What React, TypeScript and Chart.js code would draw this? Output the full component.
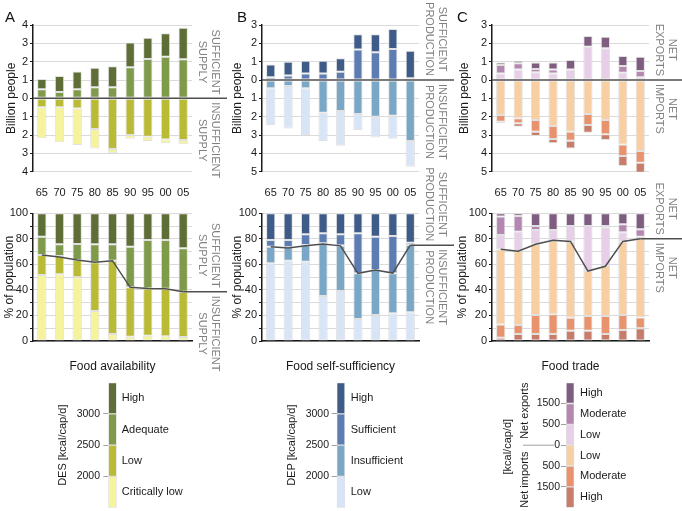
import React, { useEffect, useRef } from 'react';
import { Chart, registerables } from 'chart.js';

Chart.register(...registerables);

const FONT = "'Liberation Sans', Arial, Helvetica, sans-serif";
Chart.defaults.font.family = FONT;
Chart.defaults.color = '#1a1a1a';

// ---------------- DATA ----------------
const years = ['65', '70', '75', '80', '85', '90', '95', '00', '05'];

// A: Food availability (billion people)
const availAdequateBn = [0.49, 0.35, 0.49, 0.6, 0.6, 1.69, 2.15, 2.27, 2.13];
const availHighBn = [0.56, 0.87, 0.98, 1.07, 1.15, 1.35, 1.16, 1.28, 1.72];
const availLowBn = [0.49, 0.49, 0.55, 1.67, 2.76, 2.0, 2.09, 2.24, 2.27];
const availCritLowBn = [1.69, 1.91, 2.0, 1.06, 0.24, 0.2, 0.24, 0.21, 0.23];
// A: % of population
const availCritLowPct = [51.7, 52.2, 49.9, 23.5, 5.5, 3.4, 4.2, 3.7, 3.1];
const availLowPct = [15.7, 14.4, 13.5, 38.1, 57.4, 38.6, 37.0, 37.3, 35.5];
const availAdequatePct = [14.3, 9.1, 12.6, 14.1, 12.8, 31.9, 37.8, 38.0, 34.0];
const availHighPct = [18.3, 24.3, 24.0, 24.3, 24.3, 26.1, 21.0, 21.0, 27.4];
const availInsufficientSharePct = [67.4, 65.8, 63.4, 61.6, 62.9, 42.0, 41.2, 41.0, 38.6];

// B: Food self-sufficiency (billion people)
const suffSufficientBn = [0.15, 0.25, 0.36, 0.36, 0.45, 1.67, 1.51, 1.69, 0.09];
const suffHighBn = [0.7, 0.75, 0.69, 0.69, 0.73, 0.82, 0.98, 1.09, 1.51];
const suffInsufficientBn = [0.45, 0.33, 0.45, 1.78, 1.69, 1.85, 2.0, 1.95, 3.33];
const suffLowBn = [2.0, 2.31, 2.55, 1.55, 1.89, 0.88, 1.13, 1.25, 1.4];
// B: % of population
const suffLowPct = [60.8, 62.9, 62.1, 35.2, 39.2, 17.2, 20.4, 21.7, 22.5];
const suffInsufficientPct = [13.1, 10.5, 13.1, 41.3, 35.5, 35.8, 35.2, 31.3, 52.7];
const suffSufficientPct = [5.2, 5.7, 8.4, 7.8, 8.9, 31.3, 26.1, 29.2, 1.8];
const suffHighPct = [20.9, 20.9, 16.4, 15.7, 16.4, 15.7, 18.3, 17.8, 23.0];
const suffInsufficientSharePct = [73.9, 72.8, 74.5, 76.0, 74.5, 53.0, 55.6, 53.2, 75.0];

// C: Food trade (billion people)
const tradeLowExpBn = [0.36, 0.58, 0.42, 0.36, 0.58, 1.82, 1.73, 0.4, 0.15];
const tradeModExpBn = [0.46, 0.33, 0.18, 0.22, 0.0, 0.0, 0.0, 0.36, 0.34];
const tradeHighExpBn = [0.13, 0.14, 0.36, 0.37, 0.51, 0.58, 0.63, 0.55, 0.78];
const tradeLowImpBn = [1.91, 2.09, 2.18, 2.51, 2.82, 1.85, 2.18, 3.51, 3.87];
const tradeModImpBn = [0.36, 0.27, 0.64, 0.71, 0.49, 0.6, 0.78, 0.64, 0.64];
const tradeHighImpBn = [0.09, 0.19, 0.23, 0.23, 0.42, 0.42, 0.31, 0.54, 0.58];
// C: % of population
const tradeHighImpPct = [2.6, 5.5, 5.5, 5.5, 8.1, 8.1, 5.5, 8.6, 9.9];
const tradeModImpPct = [10.4, 7.0, 14.9, 15.4, 10.2, 11.5, 14.1, 11.8, 8.6];
const tradeLowImpPct = [58.8, 58.0, 55.3, 57.7, 59.5, 35.2, 39.1, 57.4, 61.9];
const tradeLowExpPct = [11.2, 15.1, 11.3, 8.4, 12.2, 35.2, 30.3, 7.3, 1.3];
const tradeModExpPct = [14.4, 12.3, 3.0, 0.0, 0.0, 0.0, 1.0, 6.3, 5.8];
const tradeHighExpPct = [2.6, 2.1, 10.0, 13.0, 10.0, 10.0, 10.0, 8.6, 12.5];
const tradeImportSharePct = [71.8, 70.3, 75.8, 78.8, 78.0, 54.8, 58.5, 78.0, 80.0];

// Legends
const desLegendLabels = ['Critically low', 'Low', 'Adequate', 'High'];
const depLegendLabels = ['Low', 'Insufficient', 'Sufficient', 'High'];
const kcalLegendTicks = ['2000', '2500', '3000'];
const tradeLegendLabels = ['High', 'Moderate', 'Low', 'Low', 'Moderate', 'High'];
const tradeLegendTicks = ['1500', '500', '0', '500', '1500'];

// ---------------- STYLE ----------------
const availColors = { crit: '#f5f39c', low: '#babb35', adequate: '#7f9a4b', high: '#5e6e36' };
const suffColors = { low: '#d8e5f7', insuff: '#7aa7c5', suff: '#5d7db2', high: '#3f5b88' };
const tradeColors = {
  highImp: '#c77d6a',
  modImp: '#e8936e',
  lowImp: '#f8cfa2',
  lowExp: '#e7cfe7',
  modExp: '#b487b1',
  highExp: '#7e5d80',
};
const BORDER = 'rgba(222,222,222,0.9)';
const SEP_COLOR = '#4f4f4f';
const GRID = '#dadada';
const AXIS = '#1a1a1a';

// ---------------- PLUGINS ----------------
const sideLabels = {
  id: 'sideLabels',
  afterDatasetsDraw(chart: any, _a: any, opts: any) {
    if (!opts || !opts.upper) return;
    const { ctx, chartArea } = chart;
    const y = chart.scales.y.getPixelForValue(opts.value);
    let x0 = chartArea.left;
    if (opts.lineIndex !== undefined) {
      const pts = chart.getDatasetMeta(opts.lineIndex).data;
      x0 = pts[pts.length - 1].x;
    }
    ctx.save();
    ctx.strokeStyle = SEP_COLOR;
    ctx.lineWidth = 1.5;
    ctx.beginPath();
    ctx.moveTo(x0, y);
    ctx.lineTo(chart.width, y);
    ctx.stroke();
    ctx.font = `11px ${FONT}`;
    ctx.fillStyle = '#808080';
    ctx.textAlign = 'center';
    ctx.textBaseline = 'middle';
    const cols = [chartArea.right + 23, chartArea.right + 10];
    const block = (lines: string[], start: number, dir: number) => {
      const w = Math.max(...lines.map((l) => ctx.measureText(l).width));
      const cy = start + (dir * w) / 2;
      lines.forEach((l, i) => {
        ctx.save();
        ctx.translate(cols[i], cy);
        ctx.rotate(Math.PI / 2);
        ctx.fillText(l, 0, 0);
        ctx.restore();
      });
    };
    block(opts.upper, y - 4, -1);
    block(opts.lower, y + 4, 1);
    ctx.restore();
  },
};

const panelLetter = {
  id: 'panelLetter',
  afterDraw(chart: any, _a: any, opts: any) {
    if (!opts || !opts.text) return;
    const { ctx } = chart;
    ctx.save();
    ctx.font = `15px ${FONT}`;
    ctx.fillStyle = '#111';
    ctx.textAlign = 'left';
    ctx.textBaseline = 'alphabetic';
    ctx.fillText(opts.text, opts.x, opts.y);
    ctx.restore();
  },
};

const tradeLegendTitles = {
  id: 'tradeLegendTitles',
  afterDraw(chart: any, _a: any, opts: any) {
    if (!opts || !opts.enabled) return;
    const { ctx, chartArea } = chart;
    const y0 = chart.scales.y.getPixelForValue(3);
    const L = chartArea.left;
    ctx.save();
    ctx.strokeStyle = '#a0a0a0';
    ctx.lineWidth = 1;
    ctx.beginPath();
    ctx.moveTo(L - 43, y0);
    ctx.lineTo(L - 12, y0);
    ctx.stroke();
    ctx.font = `11px ${FONT}`;
    ctx.fillStyle = '#1a1a1a';
    ctx.textAlign = 'center';
    ctx.textBaseline = 'middle';
    const rot = (t: string, x: number, y: number) => {
      ctx.save();
      ctx.translate(x, y);
      ctx.rotate(-Math.PI / 2);
      ctx.fillText(t, 0, 0);
      ctx.restore();
    };
    rot('Net exports', L - 41, y0 - 34.5);
    rot('Net imports', L - 41, y0 + 34.5);
    rot('[kcal/cap/d]', L - 58, y0 + 1.5);
    ctx.restore();
  },
};

// ---------------- CONFIG BUILDERS ----------------
type Seg = { label: string; data: number[]; color: string; down?: boolean };

const barDataset = (s: Seg) => ({
  type: 'bar',
  label: s.label,
  data: s.down ? s.data.map((v) => -v) : s.data,
  backgroundColor: s.color,
  borderColor: BORDER,
  borderWidth: 1,
  borderSkipped: false,
  barPercentage: 0.53,
  categoryPercentage: 1,
  stack: 'bars',
  order: 1,
});

type Col = {
  left: number;
  width: number;
  yWidth: number;
  padRight: number;
  letter: string;
  letterX: number;
  topTitlePad: number;
  botTitlePad: number;
};

const colA: Col = { left: 0, width: 227, yWidth: 33, padRight: 35, letter: 'A', letterX: 5, topTitlePad: 4.8, botTitlePad: 2.8 };
const colB: Col = { left: 227, width: 227, yWidth: 35, padRight: 35, letter: 'B', letterX: 10, topTitlePad: 3.8, botTitlePad: 3.8 };
const colC: Col = { left: 454, width: 228, yWidth: 38, padRight: 33, letter: 'C', letterX: 3, topTitlePad: 3.8, botTitlePad: 1.8 };

const TOP = { top: 0, height: 200, padTop: 25, xHeight: 28.3 };
const BOT = { top: 160, height: 220, padTop: 53.3, xHeight: 39 };

function topConfig(col: Col, segs: Seg[], yMin: number, yMax: number, upper: string[], lower: string[]) {
  return {
    type: 'bar',
    data: { labels: years, datasets: segs.map(barDataset) },
    options: {
      responsive: false,
      animation: false,
      events: [],
      layout: { padding: { left: 0, top: TOP.padTop, right: col.padRight, bottom: 0 } },
      plugins: {
        legend: { display: false },
        tooltip: { enabled: false },
        sideLabels: { value: 0, upper, lower },
        panelLetter: { text: col.letter, x: col.letterX, y: 22 },
      },
      scales: {
        x: {
          stacked: true,
          grid: { display: false, drawTicks: false },
          border: { display: false },
          ticks: { padding: 15, font: { size: 11 }, color: AXIS, autoSkip: false, maxRotation: 0 },
          afterFit: (s: any) => {
            s.height = TOP.xHeight;
          },
        },
        y: {
          stacked: true,
          min: yMin,
          max: yMax,
          ticks: {
            stepSize: 1,
            callback: (v: any) => Math.abs(Number(v)),
            padding: 2,
            font: { size: 11 },
            color: AXIS,
          },
          grid: {
            color: (c: any) => (c.tick && c.tick.value === 0 ? 'rgba(0,0,0,0)' : GRID),
            tickColor: AXIS,
            tickLength: 3,
          },
          border: { display: true, color: AXIS, width: 1.5 },
          title: {
            display: true,
            text: 'Billion people',
            font: { size: 12 },
            color: AXIS,
            padding: { top: col.topTitlePad, bottom: 0 },
          },
          afterFit: (s: any) => {
            s.width = col.yWidth;
          },
        },
      },
    },
    plugins: [sideLabels, panelLetter],
  };
}

function bottomConfig(col: Col, segs: Seg[], line: number[], title: string, upper: string[], lower: string[]) {
  const lineDs = {
    type: 'line',
    label: 'share',
    data: line,
    borderColor: SEP_COLOR,
    borderWidth: 1.5,
    pointRadius: 0,
    tension: 0,
    fill: false,
    stack: 'line',
    order: 0,
  };
  const datasets: any[] = segs.map(barDataset);
  datasets.push(lineDs);
  return {
    type: 'bar',
    data: { labels: years, datasets },
    options: {
      responsive: false,
      animation: false,
      events: [],
      layout: { padding: { left: 0, top: BOT.padTop, right: col.padRight, bottom: 0 } },
      plugins: {
        legend: { display: false },
        tooltip: { enabled: false },
        sideLabels: { value: line[line.length - 1], lineIndex: segs.length, upper, lower },
      },
      scales: {
        x: {
          stacked: true,
          grid: { display: false, drawTicks: false },
          border: { display: true, color: AXIS, width: 1.5 },
          ticks: { display: false },
          title: {
            display: true,
            text: title,
            font: { size: 12 },
            color: AXIS,
            padding: { top: 0, bottom: 5.8 },
          },
          afterFit: (s: any) => {
            s.height = BOT.xHeight;
          },
        },
        y: {
          stacked: true,
          min: 0,
          max: 100,
          ticks: {
            stepSize: 10,
            callback: (v: any) => (Number(v) % 20 === 0 ? String(v) : ''),
            padding: 2,
            font: { size: 11 },
            color: AXIS,
            autoSkip: false,
          },
          grid: { color: GRID, tickColor: AXIS, tickLength: 3 },
          border: { display: true, color: AXIS, width: 1.5 },
          title: {
            display: true,
            text: '% of population',
            font: { size: 12 },
            color: AXIS,
            padding: { top: col.botTitlePad, bottom: 0 },
          },
          afterFit: (s: any) => {
            s.width = col.yWidth;
          },
        },
      },
    },
    plugins: [sideLabels],
  };
}

type LegendP = {
  labels: string[];
  colors: string[];
  ticks: string[];
  leftW: number;
  rightW: number;
  padTop: number;
  padBottom: number;
  tickLen: number;
  tickPad: number;
  labelPad: number;
  title?: string;
  titlePad?: number;
  trade?: boolean;
};

function legendConfig(p: LegendP) {
  const n = p.labels.length;
  return {
    type: 'bar',
    data: {
      labels: [''],
      datasets: p.labels.map((l, i) => ({
        label: l,
        data: [1],
        backgroundColor: p.colors[i],
        borderColor: BORDER,
        borderWidth: 1,
        borderSkipped: false,
        barPercentage: 1,
        categoryPercentage: 1,
        stack: 'k',
      })),
    },
    options: {
      responsive: false,
      animation: false,
      events: [],
      layout: { padding: { left: 0, right: 0, top: p.padTop, bottom: p.padBottom } },
      plugins: {
        legend: { display: false },
        tooltip: { enabled: false },
        tradeLegendTitles: { enabled: !!p.trade },
      },
      scales: {
        x: { display: false, stacked: true },
        y: {
          stacked: true,
          min: 0,
          max: n,
          afterBuildTicks: (s: any) => {
            s.ticks = p.ticks.map((_, i) => ({ value: i + 1 }));
          },
          ticks: {
            callback: (v: any) => p.ticks[Math.round(Number(v)) - 1] ?? '',
            padding: p.tickPad,
            font: { size: 10.5 },
            color: AXIS,
            autoSkip: false,
          },
          grid: { drawOnChartArea: false, tickLength: p.tickLen, tickColor: '#a0a0a0' },
          border: { display: false },
          title: p.title
            ? {
                display: true,
                text: p.title,
                font: { size: 11 },
                color: AXIS,
                padding: { top: p.titlePad || 0, bottom: 0 },
              }
            : { display: false },
          afterFit: (s: any) => {
            s.width = p.leftW;
          },
        },
        yr: {
          type: 'linear',
          position: 'right',
          min: 0,
          max: n,
          afterBuildTicks: (s: any) => {
            s.ticks = p.labels.map((_, i) => ({ value: i + 0.5 }));
          },
          ticks: {
            callback: (v: any) => p.labels[Math.round(Number(v) - 0.5)] ?? '',
            padding: p.labelPad,
            font: { size: 11 },
            color: AXIS,
            autoSkip: false,
          },
          grid: { display: false, drawTicks: false },
          border: { display: false },
          afterFit: (s: any) => {
            s.width = p.rightW;
          },
        },
      },
    },
    plugins: [tradeLegendTitles],
  };
}

// ---------------- COMPONENTS ----------------
function ChartBox(props: { left: number; top: number; width: number; height: number; make: () => any }) {
  const ref = useRef<HTMLCanvasElement>(null);
  useEffect(() => {
    const chart = new Chart(ref.current as HTMLCanvasElement, props.make());
    return () => chart.destroy();
  }, []);
  return (
    <canvas
      ref={ref}
      width={props.width}
      height={props.height}
      style={{ position: 'absolute', left: props.left, top: props.top, width: props.width, height: props.height }}
    />
  );
}

export default function App() {
  return (
    <div
      style={{
        position: 'fixed',
        left: 0,
        top: 0,
        width: 682,
        height: 511,
        overflow: 'hidden',
        background: '#ffffff',
      }}
    >
      {/* Column A */}
      <ChartBox
        left={colA.left}
        top={TOP.top}
        width={colA.width}
        height={TOP.height}
        make={() =>
          topConfig(
            colA,
            [
              { label: 'Adequate', data: availAdequateBn, color: availColors.adequate },
              { label: 'High', data: availHighBn, color: availColors.high },
              { label: 'Low', data: availLowBn, color: availColors.low, down: true },
              { label: 'Critically low', data: availCritLowBn, color: availColors.crit, down: true },
            ],
            -4,
            4,
            ['SUFFICIENT', 'SUPPLY'],
            ['INSUFFICIENT', 'SUPPLY']
          )
        }
      />
      <ChartBox
        left={colA.left}
        top={BOT.top}
        width={colA.width}
        height={BOT.height}
        make={() =>
          bottomConfig(
            colA,
            [
              { label: 'Critically low', data: availCritLowPct, color: availColors.crit },
              { label: 'Low', data: availLowPct, color: availColors.low },
              { label: 'Adequate', data: availAdequatePct, color: availColors.adequate },
              { label: 'High', data: availHighPct, color: availColors.high },
            ],
            availInsufficientSharePct,
            'Food availability',
            ['SUFFICIENT', 'SUPPLY'],
            ['INSUFFICIENT', 'SUPPLY']
          )
        }
      />
      {/* Column B */}
      <ChartBox
        left={colB.left}
        top={TOP.top}
        width={colB.width}
        height={TOP.height}
        make={() =>
          topConfig(
            colB,
            [
              { label: 'Sufficient', data: suffSufficientBn, color: suffColors.suff },
              { label: 'High', data: suffHighBn, color: suffColors.high },
              { label: 'Insufficient', data: suffInsufficientBn, color: suffColors.insuff, down: true },
              { label: 'Low', data: suffLowBn, color: suffColors.low, down: true },
            ],
            -5,
            3,
            ['SUFFICIENT', 'PRODUCTION'],
            ['INSUFFICIENT', 'PRODUCTION']
          )
        }
      />
      <ChartBox
        left={colB.left}
        top={BOT.top}
        width={colB.width}
        height={BOT.height}
        make={() =>
          bottomConfig(
            colB,
            [
              { label: 'Low', data: suffLowPct, color: suffColors.low },
              { label: 'Insufficient', data: suffInsufficientPct, color: suffColors.insuff },
              { label: 'Sufficient', data: suffSufficientPct, color: suffColors.suff },
              { label: 'High', data: suffHighPct, color: suffColors.high },
            ],
            suffInsufficientSharePct,
            'Food self-sufficiency',
            ['SUFFICIENT', 'PRODUCTION'],
            ['INSUFFICIENT', 'PRODUCTION']
          )
        }
      />
      {/* Column C */}
      <ChartBox
        left={colC.left}
        top={TOP.top}
        width={colC.width}
        height={TOP.height}
        make={() =>
          topConfig(
            colC,
            [
              { label: 'Low exports', data: tradeLowExpBn, color: tradeColors.lowExp },
              { label: 'Moderate exports', data: tradeModExpBn, color: tradeColors.modExp },
              { label: 'High exports', data: tradeHighExpBn, color: tradeColors.highExp },
              { label: 'Low imports', data: tradeLowImpBn, color: tradeColors.lowImp, down: true },
              { label: 'Moderate imports', data: tradeModImpBn, color: tradeColors.modImp, down: true },
              { label: 'High imports', data: tradeHighImpBn, color: tradeColors.highImp, down: true },
            ],
            -5,
            3,
            ['NET', 'EXPORTS'],
            ['NET', 'IMPORTS']
          )
        }
      />
      <ChartBox
        left={colC.left}
        top={BOT.top}
        width={colC.width}
        height={BOT.height}
        make={() =>
          bottomConfig(
            colC,
            [
              { label: 'High imports', data: tradeHighImpPct, color: tradeColors.highImp },
              { label: 'Moderate imports', data: tradeModImpPct, color: tradeColors.modImp },
              { label: 'Low imports', data: tradeLowImpPct, color: tradeColors.lowImp },
              { label: 'Low exports', data: tradeLowExpPct, color: tradeColors.lowExp },
              { label: 'Moderate exports', data: tradeModExpPct, color: tradeColors.modExp },
              { label: 'High exports', data: tradeHighExpPct, color: tradeColors.highExp },
            ],
            tradeImportSharePct,
            'Food trade',
            ['NET', 'EXPORTS'],
            ['NET', 'IMPORTS']
          )
        }
      />
      {/* Legends */}
      <ChartBox
        left={40}
        top={365}
        width={187}
        height={160}
        make={() =>
          legendConfig({
            labels: desLegendLabels,
            colors: [availColors.crit, availColors.low, availColors.adequate, availColors.high],
            ticks: kcalLegendTicks,
            leftW: 68.3,
            rightW: 110.3,
            padTop: 17.7,
            padBottom: 17.3,
            tickLen: 5,
            tickPad: 3.3,
            labelPad: 5,
            title: 'DES [kcal/cap/d]',
            titlePad: 16.7,
          })
        }
      />
      <ChartBox
        left={265}
        top={365}
        width={200}
        height={160}
        make={() =>
          legendConfig({
            labels: depLegendLabels,
            colors: [suffColors.low, suffColors.insuff, suffColors.suff, suffColors.high],
            ticks: kcalLegendTicks,
            leftW: 71.7,
            rightW: 120,
            padTop: 17.7,
            padBottom: 17.3,
            tickLen: 5,
            tickPad: 2.7,
            labelPad: 5.7,
            title: 'DEP [kcal/cap/d]',
            titlePad: 20.1,
          })
        }
      />
      <ChartBox
        left={480}
        top={365}
        width={202}
        height={160}
        make={() =>
          legendConfig({
            labels: tradeLegendLabels,
            colors: [
              tradeColors.highImp,
              tradeColors.modImp,
              tradeColors.lowImp,
              tradeColors.lowExp,
              tradeColors.modExp,
              tradeColors.highExp,
            ],
            ticks: tradeLegendTicks,
            leftW: 86,
            rightW: 107.7,
            padTop: 17.7,
            padBottom: 17.3,
            tickLen: 5,
            tickPad: 1,
            labelPad: 5.7,
            trade: true,
          })
        }
      />
    </div>
  );
}
